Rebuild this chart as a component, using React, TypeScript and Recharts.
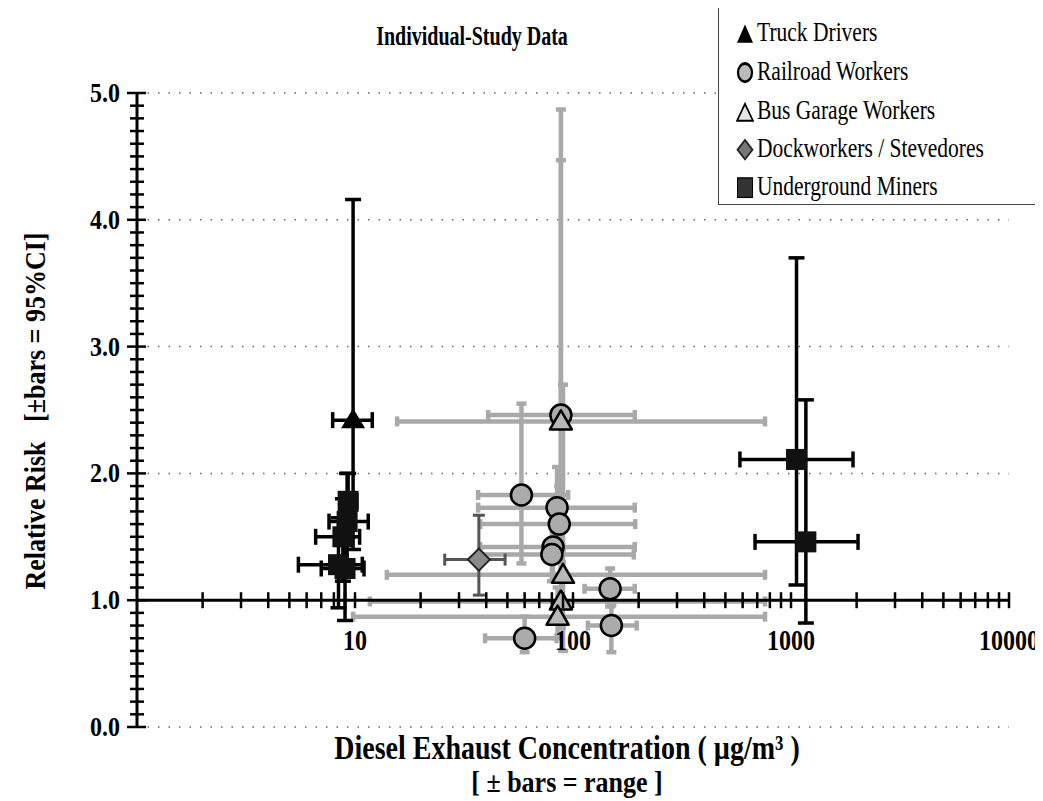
import React from 'react';
import { ScatterChart, Scatter, XAxis, YAxis, ErrorBar, ReferenceLine } from 'recharts';

// conc = diesel exhaust concentration (ug/m3) with its range, rr = relative risk with 95% CI
type Pt = { conc: number; rr: number; concLo: number; concHi: number; rrLo: number; rrHi: number };

const truckDrivers: Pt[] = [
  { conc: 9.8, rr: 2.42, concLo: 7.9, concHi: 12, rrLo: 1.4, rrHi: 4.16 },
];

const railroadWorkers: Pt[] = [
  { conc: 88, rr: 2.46, concLo: 40.8, concHi: 192, rrLo: 1.4, rrHi: 4.47 },
  { conc: 58, rr: 1.83, concLo: 36.7, concHi: 95, rrLo: 1.29, rrHi: 2.55 },
  { conc: 84.5, rr: 1.73, concLo: 36.7, concHi: 192, rrLo: 1.45, rrHi: 2.05 },
  { conc: 86.5, rr: 1.6, concLo: 37.5, concHi: 193, rrLo: 1.35, rrHi: 1.9 },
  { conc: 81, rr: 1.42, concLo: 37.5, concHi: 192, rrLo: 1.2, rrHi: 1.7 },
  { conc: 80, rr: 1.36, concLo: 37.5, concHi: 190, rrLo: 1.15, rrHi: 1.6 },
  { conc: 148, rr: 1.09, concLo: 113, concHi: 192, rrLo: 0.95, rrHi: 1.25 },
  { conc: 150, rr: 0.8, concLo: 117, concHi: 196, rrLo: 0.59, rrHi: 0.96 },
  { conc: 60, rr: 0.7, concLo: 39.5, concHi: 84, rrLo: 0.59, rrHi: 0.87 },
];

const busGarageWorkers: Pt[] = [
  { conc: 88, rr: 2.41, concLo: 15.6, concHi: 760, rrLo: 1.2, rrHi: 4.87 },
  { conc: 90, rr: 1.2, concLo: 14, concHi: 760, rrLo: 0.6, rrHi: 2.7 },
  { conc: 88, rr: 0.99, concLo: 11.7, concHi: 760, rrLo: 0.78, rrHi: 1.3 },
  { conc: 85, rr: 0.87, concLo: 9.8, concHi: 760, rrLo: 0.7, rrHi: 1.1 },
];

const dockworkers: Pt[] = [
  { conc: 37, rr: 1.32, concLo: 25.8, concHi: 48.8, rrLo: 1.04, rrHi: 1.67 },
];

const undergroundMiners: Pt[] = [
  { conc: 9.3, rr: 1.78, concLo: 8.6, concHi: 10.2, rrLo: 1.5, rrHi: 2.0 },
  { conc: 9.2, rr: 1.62, concLo: 7.6, concHi: 11.5, rrLo: 1.3, rrHi: 2.0 },
  { conc: 8.8, rr: 1.5, concLo: 6.6, concHi: 10.5, rrLo: 1.15, rrHi: 1.8 },
  { conc: 8.4, rr: 1.28, concLo: 5.5, concHi: 10.8, rrLo: 0.94, rrHi: 1.65 },
  { conc: 9.0, rr: 1.25, concLo: 7.0, concHi: 11, rrLo: 0.84, rrHi: 1.6 },
  { conc: 1060, rr: 2.11, concLo: 583, concHi: 1925, rrLo: 1.12, rrHi: 3.7 },
  { conc: 1170, rr: 1.46, concLo: 684, concHi: 2030, rrLo: 0.82, rrHi: 2.58 },
];

const X_DECADES = [1, 10, 100, 1000];
const X_MULTS = [1, 2, 3, 4, 5, 6, 7, 8, 9];
const X_TICKS = [...X_DECADES.flatMap((d) => X_MULTS.map((m) => m * d)).slice(1), 10000];
const X_LABELS = [10, 100, 1000, 10000];
const Y_TICKS = Array.from({ length: 51 }, (_, i) => i / 10);
const Y_LABELS = [0, 1, 2, 3, 4, 5];
const GRID_Y = [0, 2, 3, 4, 5];

const FONT = '"Liberation Serif", "Times New Roman", serif';
const CHART_W = 1035;
const CHART_H = 793;
const PLOT = { left: 129, top: 85, width: 872, height: 634 };
const Y_AXIS_W = 60;
const X_AXIS_H = 30;
const Y_AT_ONE = PLOT.top + PLOT.height * (1 - 1 / 5);

const GRAY_BAR = '#a9a9a9';

// error bar deltas (recharts wants offsets from the point, not bounds)
const concErr = (d: Pt) => [d.conc - d.concLo, d.concHi - d.conc];
const rrErr = (d: Pt) => [d.rr - d.rrLo, d.rrHi - d.rr];

const YTick = (props: any) => {
  const { y, payload } = props;
  const v = payload.value;
  const major = Y_LABELS.includes(v);
  const x0 = PLOT.left;
  return (
    <g>
      <line x1={x0 - (major ? 10 : 7)} x2={x0 + (major ? 9 : 7)} y1={y} y2={y} stroke="#000" strokeWidth={2.5} />
      {major && (
        <text
          transform={`translate(${x0 - 17},${y}) scale(1,1.15)`}
          textAnchor="end"
          dominantBaseline="central"
          fontFamily={FONT}
          fontWeight="bold"
          fontSize={24}
          fill="#000"
        >
          {v.toFixed(1)}
        </text>
      )}
    </g>
  );
};

const XTick = (props: any) => {
  const { x, payload } = props;
  const v = payload.value;
  return (
    <g>
      <line x1={x} x2={x} y1={Y_AT_ONE - 8} y2={Y_AT_ONE + 8} stroke="#000" strokeWidth={2.5} />
      {X_LABELS.includes(v) && (
        <text
          transform={`translate(${x},${Y_AT_ONE + 40}) scale(1,1.25)`}
          textAnchor="middle"
          dominantBaseline="central"
          fontFamily={FONT}
          fontWeight="bold"
          fontSize={24}
          fill="#000"
        >
          {v}
        </text>
      )}
    </g>
  );
};

const NoMark = () => <g />;

const FilledTriangle = (props: any) => {
  const { cx, cy } = props;
  return <polygon points={`${cx},${cy - 12} ${cx + 12},${cy + 8} ${cx - 12},${cy + 8}`} fill="#000" />;
};

const GrayTriangle = (props: any) => {
  const { cx, cy } = props;
  return (
    <polygon
      points={`${cx},${cy - 11} ${cx + 11},${cy + 8} ${cx - 11},${cy + 8}`}
      fill="#b8b8b8"
      stroke="#000"
      strokeWidth={2.5}
      strokeLinejoin="round"
    />
  );
};

const GrayCircle = (props: any) => {
  const { cx, cy } = props;
  return <circle cx={cx} cy={cy} r={10.5} fill="#ababab" stroke="#000" strokeWidth={2.5} />;
};

const Diamond = (props: any) => {
  const { cx, cy } = props;
  return (
    <polygon
      points={`${cx},${cy - 11} ${cx + 11},${cy} ${cx},${cy + 11} ${cx - 11},${cy}`}
      fill="#8a8a8a"
      stroke="#222"
      strokeWidth={2}
    />
  );
};

const Square = (props: any) => {
  const { cx, cy } = props;
  return <rect x={cx - 10.5} y={cy - 10.5} width={21} height={21} fill="#111" />;
};

const legendItems = [
  { label: 'Truck Drivers', icon: <polygon points="9,2 17,16 1,16" fill="#000" /> },
  { label: 'Railroad Workers', icon: <circle cx={9} cy={9} r={7} fill="#bbb" stroke="#000" strokeWidth={2.2} /> },
  { label: 'Bus Garage Workers', icon: <polygon points="9,3 17,16 1,16" fill="#e4e4e4" stroke="#000" strokeWidth={1.6} /> },
  { label: 'Dockworkers / Stevedores', icon: <polygon points="9,1.5 16.5,9 9,16.5 1.5,9" fill="#777" stroke="#222" strokeWidth={1.6} /> },
  { label: 'Underground Miners', icon: <rect x={1.5} y={1.5} width={15} height={15} fill="#333" stroke="#000" strokeWidth={1} /> },
];

const LEGEND_ROWS = [32, 71, 110, 148, 186];

const ChartLegend = () => (
  <div
    style={{
      position: 'absolute',
      left: 710,
      top: -7,
      width: 322,
      height: 204,
      border: '1.5px solid #444',
      background: '#fff',
      boxSizing: 'border-box',
    }}
  >
    {legendItems.map((item, i) => (
      <div
        key={item.label}
        style={{
          position: 'absolute',
          left: 17,
          top: LEGEND_ROWS[i] - 1,
          transform: 'translateY(-50%) scaleY(1.3)',
          display: 'flex',
          alignItems: 'center',
          whiteSpace: 'nowrap',
          fontSize: 21.5,
          fontFamily: FONT,
          color: '#000',
        }}
      >
        <svg width={18} height={18} style={{ marginRight: 3 }}>
          {item.icon}
        </svg>
        {item.label}
      </div>
    ))}
  </div>
);

const textStyle = (left: number, top: number, size: number, extra = ''): React.CSSProperties => ({
  position: 'absolute',
  left,
  top,
  transform: `translate(-50%, -50%) ${extra}`,
  fontFamily: FONT,
  fontWeight: 'bold',
  fontSize: size,
  whiteSpace: 'pre',
  color: '#000',
  lineHeight: 1,
});

export default function App() {
  return (
    <div style={{ position: 'relative', width: CHART_W, height: CHART_H, fontFamily: FONT }}>
      <ScatterChart
        width={CHART_W}
        height={CHART_H}
        margin={{
          top: PLOT.top,
          left: PLOT.left - Y_AXIS_W,
          right: CHART_W - PLOT.left - PLOT.width,
          bottom: CHART_H - PLOT.top - PLOT.height - X_AXIS_H,
        }}
      >
        <XAxis
          type="number"
          dataKey="conc"
          scale="log"
          domain={[1, 10000]}
          allowDataOverflow
          ticks={X_TICKS}
          interval={0}
          axisLine={false}
          tickLine={false}
          tick={<XTick />}
          height={X_AXIS_H}
        />
        <YAxis
          type="number"
          dataKey="rr"
          domain={[0, 5]}
          allowDataOverflow
          ticks={Y_TICKS}
          interval={0}
          axisLine={{ stroke: '#000', strokeWidth: 3 }}
          tickLine={false}
          tick={<YTick />}
          width={Y_AXIS_W}
        />
        {GRID_Y.map((v) => (
          <ReferenceLine key={v} y={v} stroke="#666" strokeWidth={1.5} strokeDasharray="1.5 9" />
        ))}

        {/* error bars first, markers on top */}
        <Scatter data={busGarageWorkers} shape={<NoMark />} isAnimationActive={false}>
          <ErrorBar dataKey={concErr} direction="x" width={5} stroke={GRAY_BAR} strokeWidth={4.5} isAnimationActive={false} />
          <ErrorBar dataKey={rrErr} direction="y" width={5} stroke={GRAY_BAR} strokeWidth={4.5} isAnimationActive={false} />
        </Scatter>
        <Scatter data={railroadWorkers} shape={<NoMark />} isAnimationActive={false}>
          <ErrorBar dataKey={concErr} direction="x" width={5} stroke={GRAY_BAR} strokeWidth={4.5} isAnimationActive={false} />
          <ErrorBar dataKey={rrErr} direction="y" width={5} stroke={GRAY_BAR} strokeWidth={4.5} isAnimationActive={false} />
        </Scatter>
        <Scatter data={dockworkers} shape={<NoMark />} isAnimationActive={false}>
          <ErrorBar dataKey={concErr} direction="x" width={6} stroke="#555" strokeWidth={3} isAnimationActive={false} />
          <ErrorBar dataKey={rrErr} direction="y" width={6} stroke="#555" strokeWidth={3} isAnimationActive={false} />
        </Scatter>
        <Scatter data={truckDrivers} shape={<NoMark />} isAnimationActive={false}>
          <ErrorBar dataKey={concErr} direction="x" width={8} stroke="#000" strokeWidth={3.5} isAnimationActive={false} />
          <ErrorBar dataKey={rrErr} direction="y" width={8} stroke="#000" strokeWidth={3.5} isAnimationActive={false} />
        </Scatter>
        <Scatter data={undergroundMiners} shape={<NoMark />} isAnimationActive={false}>
          <ErrorBar dataKey={concErr} direction="x" width={8} stroke="#000" strokeWidth={3.5} isAnimationActive={false} />
          <ErrorBar dataKey={rrErr} direction="y" width={8} stroke="#000" strokeWidth={3.5} isAnimationActive={false} />
        </Scatter>

        <ReferenceLine y={1} stroke="#000" strokeWidth={3} />

        <Scatter name="Railroad Workers" data={railroadWorkers} shape={<GrayCircle />} isAnimationActive={false} />
        <Scatter name="Bus Garage Workers" data={busGarageWorkers} shape={<GrayTriangle />} isAnimationActive={false} />
        <Scatter name="Dockworkers / Stevedores" data={dockworkers} shape={<Diamond />} isAnimationActive={false} />
        <Scatter name="Truck Drivers" data={truckDrivers} shape={<FilledTriangle />} isAnimationActive={false} />
        <Scatter name="Underground Miners" data={undergroundMiners} shape={<Square />} isAnimationActive={false} />
      </ScatterChart>

      <div style={textStyle(464, 27, 20, 'scaleY(1.4)')}>Individual-Study Data</div>
      <div style={textStyle(28, 403, 26, 'rotate(-90deg) scaleY(1.15)')}>{'Relative Risk   [±bars = 95%CI]'}</div>
      <div style={textStyle(559, 740, 28, 'scaleY(1.2)')}>Diesel Exhaust Concentration ( µg/m³ )</div>
      <div style={textStyle(559, 775, 26, 'scaleY(1.15)')}>[ ± bars = range ]</div>
      <ChartLegend />
    </div>
  );
}
